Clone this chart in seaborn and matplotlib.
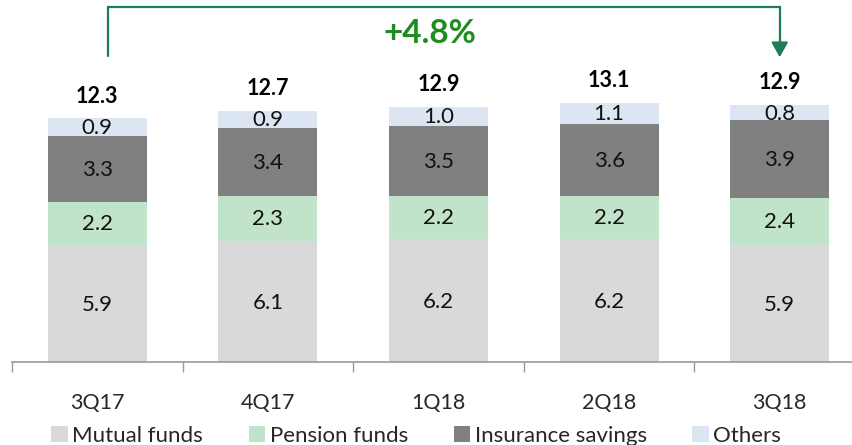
import matplotlib.pyplot as plt
import numpy as np
import pandas as pd
import seaborn as sns

# data
quarters = ["3Q17", "4Q17", "1Q18", "2Q18", "3Q18"]
mutual_funds = [5.9, 6.1, 6.2, 6.2, 5.9]
pension_funds = [2.2, 2.3, 2.2, 2.2, 2.4]
insurance_savings = [3.3, 3.4, 3.5, 3.6, 3.9]
others = [0.9, 0.9, 1.0, 1.1, 0.8]
totals = [12.3, 12.7, 12.9, 13.1, 12.9]
growth_label = "+4.8%"

series = ["Mutual funds", "Pension funds", "Insurance savings", "Others"]
colors = ["#D9D9D9", "#C1E3C9", "#808080", "#DCE6F2"]

df = pd.DataFrame(
    {"quarter": quarters, "Mutual funds": mutual_funds, "Pension funds": pension_funds,
     "Insurance savings": insurance_savings, "Others": others}
)
cum = df[series].cumsum(axis=1)

sns.set_style("white")
plt.rcParams["font.family"] = ["Lato", "DejaVu Sans"]

fig = plt.figure(figsize=(8.53, 4.45), dpi=100)
ax = fig.add_axes([12 / 853, 83 / 445, 853 / 853, 362 / 445])

# stacked bars: draw cumulative heights from top layer down
for name, color in reversed(list(zip(series, colors))):
    sns.barplot(x=df["quarter"], y=cum[name], color=color, width=0.58,
                saturation=1, ax=ax, label=name, linewidth=0)

# segment labels
for i in range(len(quarters)):
    base = 0
    for name in series:
        v = df[name][i]
        ax.text(i, base + v / 2 - 0.05, f"{v:.1f}", ha="center", va="center",
                fontsize=16, color="#111111")
        base += v
    ax.annotate(f"{totals[i]:.1f}", (i, cum["Others"][i]), xytext=(0, 16),
                textcoords="offset points", ha="center", va="center",
                fontsize=15.5, fontweight="bold", color="black")

# growth bracket
green = "#1F7D55"
ax.plot([0.06, 0.06, 4.0, 4.0], [15.45, 17.93, 17.93, 16.0], color=green,
        lw=1.6, solid_joinstyle="miter", clip_on=False)
ax.annotate("", xy=(4.0, 15.25), xytext=(4.0, 16.1),
            arrowprops=dict(arrowstyle="-|>,head_length=0.9,head_width=0.5",
                            color=green, lw=1.6))
ax.text(1.95, 16.6, growth_label, ha="center", va="center", fontsize=24,
        fontweight="bold", color="#1E8C1E")

ax.set_xlim(-0.5, 4.5)
ax.set_ylim(0, 362 / 19.8)
ax.set_xlabel("")
ax.set_ylabel("")
ax.set_yticks([])
ax.tick_params(axis="x", length=0, pad=22, labelsize=15.5)
ax.set_xticks(np.arange(-0.5, 5, 1), minor=True)
ax.tick_params(axis="x", which="minor", length=7, width=1, color="#999999",
               direction="out", bottom=True)
for s in ["top", "right", "left"]:
    ax.spines[s].set_visible(False)
ax.spines["bottom"].set_color("#999999")
ax.spines["bottom"].set_linewidth(1.2)

handles, labels = ax.get_legend_handles_labels()
order = [labels.index(n) for n in series]
if ax.legend_:
    ax.legend_.remove()
fig.legend([handles[k] for k in order], series, loc="center",
           bbox_to_anchor=(0.488, 9 / 445), ncol=4, frameon=False,
           fontsize=16, handlelength=0.75, handleheight=0.75, handletextpad=0.2,
           columnspacing=2.05, borderpad=0)

fig.savefig("out.png", dpi=100)
